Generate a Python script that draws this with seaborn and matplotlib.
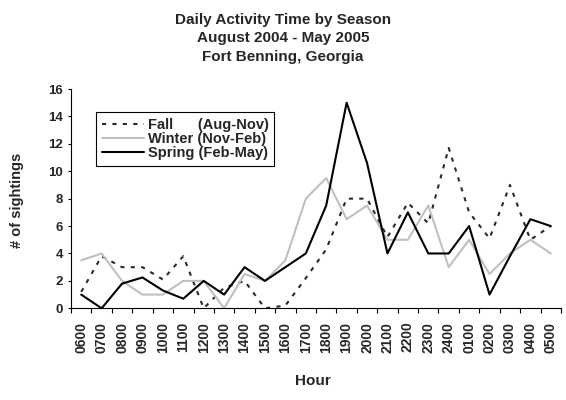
import numpy as np
import pandas as pd
import matplotlib
matplotlib.use('Agg')
import matplotlib.pyplot as plt
import seaborn as sns

# ---- data ----
hours = ['0600', '0700', '0800', '0900', '1000', '1100', '1200', '1300',
         '1400', '1500', '1600', '1700', '1800', '1900', '2000', '2100',
         '2200', '2300', '2400', '0100', '0200', '0300', '0400', '0500']

fall = [1.2, 3.8, 3.0, 3.0, 2.1, 3.8, 0.0, 1.5, 2.0, 0.0, 0.2, 2.2,
        4.3, 8.0, 8.0, 5.2, 7.7, 6.2, 11.7, 7.0, 5.1, 9.0, 5.0, 6.0]
winter = [3.5, 4.0, 2.0, 1.0, 1.0, 2.0, 2.0, 0.0, 2.5, 2.0, 3.5, 8.0,
          9.5, 6.5, 7.5, 5.0, 5.0, 7.5, 3.0, 5.0, 2.5, 4.0, 5.0, 4.0]
spring = [1.0, 0.0, 1.8, 2.25, 1.3, 0.7, 2.0, 1.0, 3.0, 2.0, 3.0, 4.0,
          7.5, 15.0, 10.6, 4.0, 7.0, 4.0, 4.0, 6.0, 1.0, 3.8, 6.5, 6.0]

season_labels = ['Fall      (Aug-Nov)', 'Winter (Nov-Feb)', 'Spring (Feb-May)']
y_ticks = [0, 2, 4, 6, 8, 10, 12, 14, 16]

# ---- style ----
sns.set_style('white')
plt.rcParams['font.family'] = ['Liberation Sans', 'DejaVu Sans']
plt.rcParams['font.weight'] = 'bold'

W, H = 566, 400
fig = plt.figure(figsize=(W / 100, H / 100), dpi=100)
ax = fig.add_axes([71 / W, 1 - 308.3 / H, 490 / W, 219.3 / H])

pos = np.arange(len(hours))
sns.lineplot(x=pos, y=fall, ax=ax, color='#2a2a2a', lw=1.5,
             linestyle=(0, (2.0, 3.0)), label=season_labels[0])
sns.lineplot(x=pos, y=winter, ax=ax, color='#c0c0c0', lw=1.5,
             label=season_labels[1])
sns.lineplot(x=pos, y=spring, ax=ax, color='black', lw=1.5,
             label=season_labels[2])

# ---- axes ----
ax.set_xlim(-0.5, len(hours) - 0.5)
ax.set_ylim(0, 16)
ax.set_yticks(y_ticks)
ax.set_xticks(pos)
ax.set_xticklabels(hours, rotation=90)
ax.set_xticks(np.arange(-0.5, len(hours), 1), minor=True)
ax.tick_params(axis='x', which='major', length=0, pad=9.6, labelsize=10)
ax.tick_params(axis='x', which='minor', length=3.5, width=0.8,
               direction='out', color='black', bottom=True)
ax.tick_params(axis='y', length=2.5, width=0.8, pad=3.4, labelsize=9.5,
               direction='out', color='black', left=True)

for side in ['top', 'right']:
    ax.spines[side].set_visible(False)
for side in ['left', 'bottom']:
    ax.spines[side].set_color('black')
    ax.spines[side].set_linewidth(0.8)

ax.set_xlabel('Hour', fontsize=11, fontweight='bold')
ax.xaxis.set_label_coords(0.493, -0.2996)
ax.set_ylabel('# of sightings', fontsize=10.5, fontweight='bold')
ax.yaxis.set_label_coords(-0.096, 0.494)

fig.suptitle('Daily Activity Time by Season\nAugust 2004 - May 2005\nFort Benning, Georgia',
             x=0.5, y=1 - 13 / H, ha='center', va='top',
             fontsize=11, fontweight='bold', linespacing=1.4)

leg = ax.legend(loc='upper left', bbox_to_anchor=(96 / W, 1 - 112 / H),
                bbox_transform=fig.transFigure, frameon=True, fancybox=False,
                shadow=False, edgecolor='black', framealpha=1,
                borderpad=0.4, labelspacing=0.0, handlelength=2.9,
                handletextpad=0.25, borderaxespad=0,
                prop={'size': 10.5, 'weight': 'bold'})
leg.get_frame().set_linewidth(0.8)

fig.savefig('out.png', dpi=100)
